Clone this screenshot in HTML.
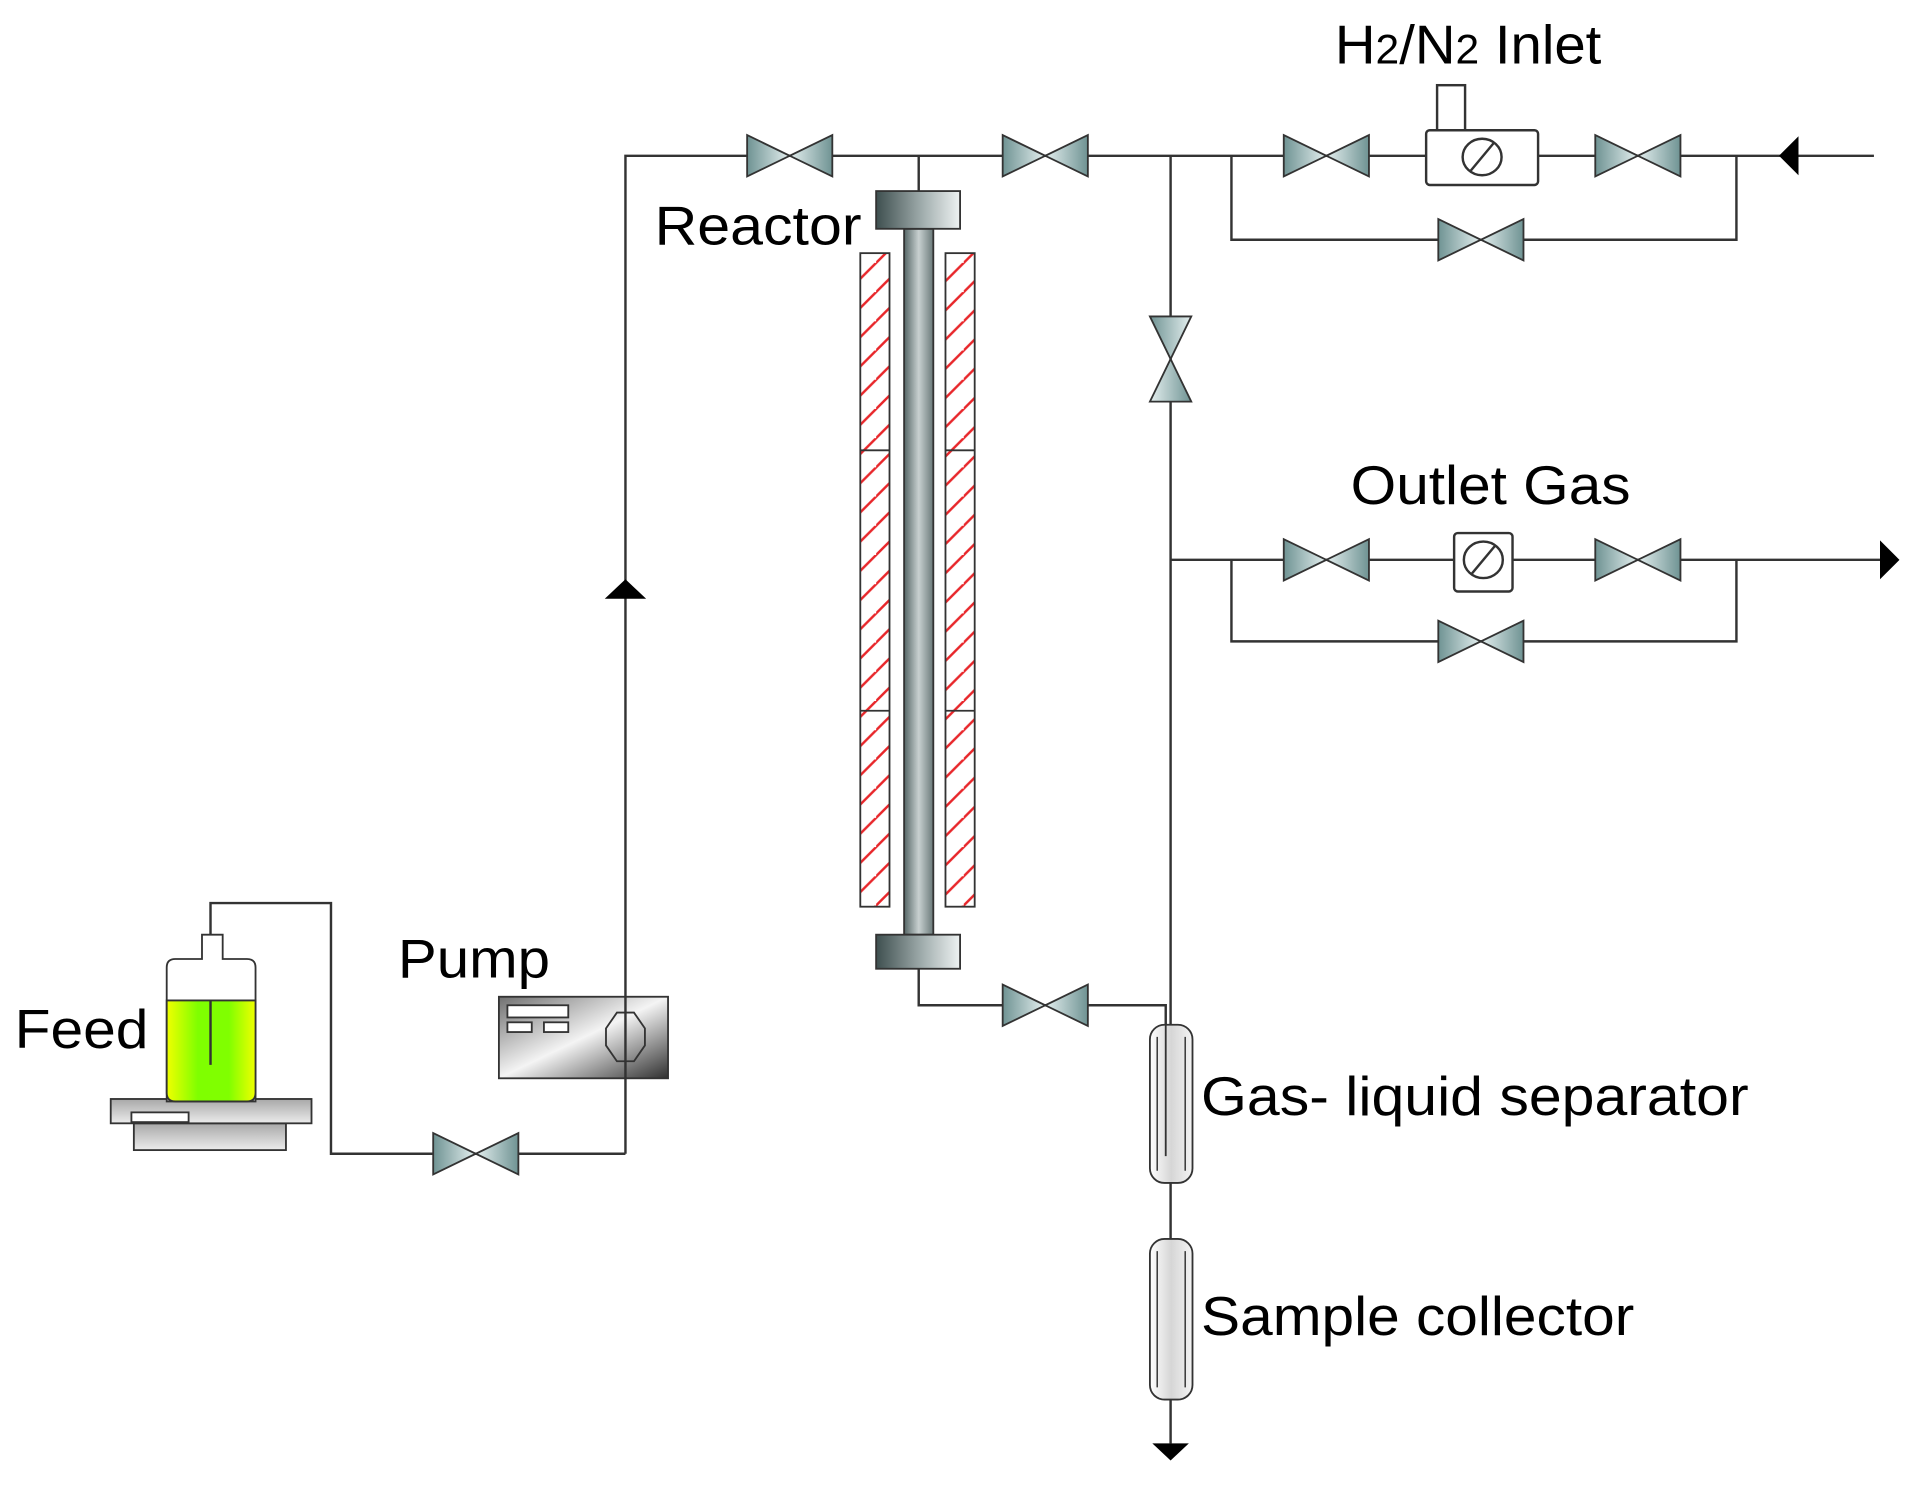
<!DOCTYPE html>
<html><head><meta charset="utf-8"><style>
html,body{margin:0;padding:0;background:#fff}
svg{display:block}
text{font-family:"Liberation Sans",Arial,sans-serif;font-size:45px;fill:#000}
</style></head><body>
<svg width="1908" height="1486" viewBox="0 0 1568 1221" preserveAspectRatio="none" xmlns="http://www.w3.org/2000/svg">
<defs>
<linearGradient id="vg" x1="0" y1="0" x2="1" y2="0"><stop offset="0" stop-color="#6f9393"/><stop offset="1" stop-color="#e4efef"/></linearGradient>
<linearGradient id="vg2" x1="1" y1="0" x2="0" y2="0"><stop offset="0" stop-color="#6f9393"/><stop offset="1" stop-color="#e4efef"/></linearGradient>
<linearGradient id="cap" x1="0" y1="0" x2="1" y2="0"><stop offset="0" stop-color="#3e4f4f"/><stop offset="0.6" stop-color="#a9b5b5"/><stop offset="1" stop-color="#eef2f2"/></linearGradient>
<linearGradient id="tube" x1="0" y1="0" x2="1" y2="0"><stop offset="0" stop-color="#556666"/><stop offset="0.5" stop-color="#c8d0d0"/><stop offset="1" stop-color="#6a7a7a"/></linearGradient>
<linearGradient id="green" x1="0" y1="0" x2="1" y2="0"><stop offset="0" stop-color="#f0ff00"/><stop offset="0.35" stop-color="#7fff00"/><stop offset="0.7" stop-color="#80ff00"/><stop offset="1" stop-color="#f0ff00"/></linearGradient>
<linearGradient id="grey" x1="0" y1="0" x2="0" y2="1"><stop offset="0" stop-color="#a8a8a8"/><stop offset="1" stop-color="#ececec"/></linearGradient>
<linearGradient id="pump" x1="0" y1="0" x2="1" y2="1"><stop offset="0" stop-color="#707070"/><stop offset="0.5" stop-color="#f4f4f4"/><stop offset="1" stop-color="#303030"/></linearGradient>
<linearGradient id="sep" x1="0" y1="0" x2="1" y2="0"><stop offset="0" stop-color="#ffffff"/><stop offset="0.5" stop-color="#d6d6d6"/><stop offset="1" stop-color="#f4f4f4"/></linearGradient>
<pattern id="hatch" width="24" height="24" patternUnits="userSpaceOnUse"><rect width="24" height="24" fill="#fff"/><path d="M-6,30 L30,-6 M-18,18 L18,-18" stroke="#e8262a" stroke-width="2"/></pattern>
<g id="vh"><polygon points="-35,-17 0,0 -35,17" fill="url(#vg)" stroke="#333" stroke-width="1.5"/><polygon points="35,-17 0,0 35,17" fill="url(#vg2)" stroke="#333" stroke-width="1.5"/></g>
<g id="vv"><polygon points="-17,-35 0,0 17,-35" fill="url(#vg)" stroke="#333" stroke-width="1.5"/><polygon points="-17,35 0,0 17,35" fill="url(#vg2)" stroke="#333" stroke-width="1.5"/></g>
</defs>
<g stroke="#333" stroke-width="2" fill="none">
<polyline points="514,948 514,128 1540,128"/>
<line x1="755" y1="128" x2="755" y2="157"/>
<polyline points="1012,128 1012,197 1427,197 1427,128"/>
<line x1="962" y1="128" x2="962" y2="842"/>
<line x1="962" y1="460" x2="1545" y2="460"/>
<polyline points="1012,460 1012,527 1427,527 1427,460"/>
<polyline points="755,796 755,826 958,826 958,842"/>
<line x1="962" y1="972" x2="962" y2="1018"/>
<line x1="962" y1="1150" x2="962" y2="1186"/>
<polyline points="514,948 272,948 272,742 173,742 173,875"/>
</g>
<polygon points="1478,112 1462,128 1478,144" fill="#000"/>
<polygon points="1545,444 1561,460 1545,476" fill="#000"/>
<polygon points="497,492 514,476 531,492" fill="#000"/>
<polygon points="947,1186 977,1186 962,1200" fill="#000"/>
<use href="#vh" x="649" y="128"/>
<use href="#vh" x="859" y="128"/>
<use href="#vh" x="1090" y="128"/>
<use href="#vh" x="1346" y="128"/>
<use href="#vh" x="1217" y="197"/>
<use href="#vh" x="1090" y="460"/>
<use href="#vh" x="1346" y="460"/>
<use href="#vh" x="1217" y="527"/>
<use href="#vh" x="859" y="826"/>
<use href="#vh" x="391" y="948"/>
<use href="#vv" x="962" y="295"/>
<rect x="1181" y="70" width="23" height="37" fill="#fff" stroke="#333" stroke-width="2"/>
<rect x="1172" y="107" width="92" height="45" rx="3" fill="#fff" stroke="#333" stroke-width="2"/>
<ellipse cx="1218" cy="129" rx="16" ry="15" fill="#fff" stroke="#333" stroke-width="2"/>
<line x1="1208" y1="141" x2="1228" y2="117" stroke="#333" stroke-width="2"/>
<rect x="1195" y="438" width="48" height="48" rx="3" fill="#fff" stroke="#333" stroke-width="2"/>
<ellipse cx="1219" cy="460" rx="16" ry="15" fill="#fff" stroke="#333" stroke-width="2"/>
<line x1="1209" y1="472" x2="1229" y2="448" stroke="#333" stroke-width="2"/>
<rect x="707" y="208" width="24" height="537" fill="url(#hatch)" stroke="#333" stroke-width="1.5"/>
<rect x="777" y="208" width="24" height="537" fill="url(#hatch)" stroke="#333" stroke-width="1.5"/>
<g stroke="#333" stroke-width="1.5"><line x1="707" y1="370" x2="731" y2="370"/><line x1="707" y1="584" x2="731" y2="584"/><line x1="777" y1="370" x2="801" y2="370"/><line x1="777" y1="584" x2="801" y2="584"/></g>
<rect x="743" y="188" width="24" height="580" fill="url(#tube)" stroke="#333" stroke-width="1.5"/>
<rect x="720" y="157" width="69" height="31" fill="url(#cap)" stroke="#333" stroke-width="1.5"/>
<rect x="720" y="768" width="69" height="28" fill="url(#cap)" stroke="#333" stroke-width="1.5"/>
<rect x="945" y="842" width="35" height="130" rx="12" fill="url(#sep)" stroke="#333" stroke-width="1.5"/>
<line x1="951" y1="852" x2="951" y2="962" stroke="#333" stroke-width="1.2"/>
<line x1="974" y1="852" x2="974" y2="962" stroke="#333" stroke-width="1.2"/>
<line x1="958" y1="842" x2="958" y2="950" stroke="#333" stroke-width="1.5"/>
<rect x="945" y="1018" width="35" height="132" rx="12" fill="url(#sep)" stroke="#333" stroke-width="1.5"/>
<line x1="951" y1="1028" x2="951" y2="1140" stroke="#333" stroke-width="1.2"/>
<line x1="974" y1="1028" x2="974" y2="1140" stroke="#333" stroke-width="1.2"/>
<rect x="110" y="923" width="125" height="22" fill="url(#grey)" stroke="#333" stroke-width="1.5"/>
<rect x="91" y="903" width="165" height="20" fill="url(#grey)" stroke="#333" stroke-width="1.5"/>
<rect x="108" y="914" width="47" height="8" fill="#fff" stroke="#333" stroke-width="1.5"/>
<path d="M137,905 V795 Q137,788 144,788 H166 V768 H183 V788 H203 Q210,788 210,795 V905 Z" fill="#fff" stroke="#333" stroke-width="1.5"/>
<path d="M137,822 H210 V898 Q210,905 203,905 H144 Q137,905 137,898 Z" fill="url(#green)" stroke="#333" stroke-width="1.5"/>
<line x1="173" y1="822" x2="173" y2="875" stroke="#333" stroke-width="2"/>
<rect x="410" y="819" width="139" height="67" fill="url(#pump)" stroke="#333" stroke-width="1.5"/>
<rect x="417" y="826" width="50" height="10" fill="#fff" stroke="#333" stroke-width="1.5"/>
<rect x="417" y="840" width="20" height="8" fill="#fff" stroke="#333" stroke-width="1.5"/>
<rect x="447" y="840" width="20" height="8" fill="#fff" stroke="#333" stroke-width="1.5"/>
<polygon points="507,832 521,832 530,845 530,859 521,872 507,872 498,859 498,845" fill="none" stroke="#333" stroke-width="1.5"/>
<line x1="514" y1="819" x2="514" y2="886" stroke="#333" stroke-width="2"/>
<text x="538" y="201" textLength="170" lengthAdjust="spacingAndGlyphs">Reactor</text>
<text x="1097" y="52" textLength="219" lengthAdjust="spacingAndGlyphs">H<tspan font-size="34">2</tspan>/N<tspan font-size="34">2</tspan> Inlet</text>
<text x="1110" y="414" textLength="230" lengthAdjust="spacingAndGlyphs">Outlet Gas</text>
<text x="327" y="803" textLength="125" lengthAdjust="spacingAndGlyphs">Pump</text>
<text x="12" y="861" textLength="110" lengthAdjust="spacingAndGlyphs">Feed</text>
<text x="987" y="916" textLength="450" lengthAdjust="spacingAndGlyphs">Gas- liquid separator</text>
<text x="987" y="1097" textLength="356" lengthAdjust="spacingAndGlyphs">Sample collector</text>
</svg>
</body></html>
